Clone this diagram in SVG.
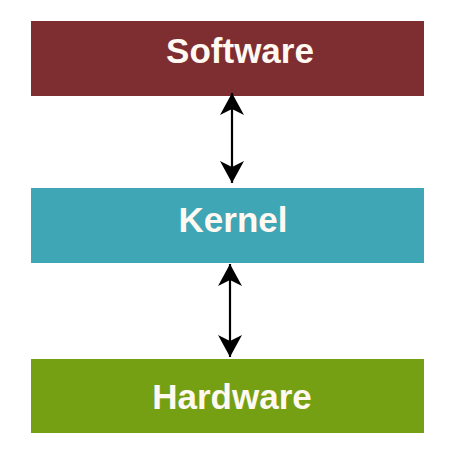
<svg xmlns="http://www.w3.org/2000/svg" width="464" height="450" viewBox="0 0 464 450">
<style>
.lbl{font-family:"Liberation Sans",Arial,sans-serif;font-weight:bold;font-size:35px;fill:#FFF9F2;text-anchor:middle}
.conn{stroke:#000;stroke-width:2.2;fill:none}
</style>
<defs>
<marker id="ah" viewBox="-23 -13 24 26" refX="0" refY="0" markerWidth="24" markerHeight="26" markerUnits="userSpaceOnUse" orient="auto-start-reverse">
<path d="M0,0 L-22,-12 L-16,0 L-22,12 Z" fill="#000"/>
</marker>
</defs>
<rect width="464" height="450" fill="#fff"/>
<g id="software">
<rect x="31" y="21" width="393" height="75" fill="#7E2D31"/>
<text class="lbl" x="240" y="63">Software</text>
</g>
<g id="kernel">
<rect x="31" y="188" width="393" height="75" fill="#3FA6B6"/>
<text class="lbl" x="233" y="232">Kernel</text>
</g>
<g id="hardware">
<rect x="31" y="359" width="393" height="74" fill="#76A014"/>
<text class="lbl" x="232" y="409">Hardware</text>
</g>
<g id="connectors">
<path class="conn" d="M232,93 L232,183" marker-start="url(#ah)" marker-end="url(#ah)"/>
<path class="conn" d="M230,264 L230,357" marker-start="url(#ah)" marker-end="url(#ah)"/>
</g>
</svg>
